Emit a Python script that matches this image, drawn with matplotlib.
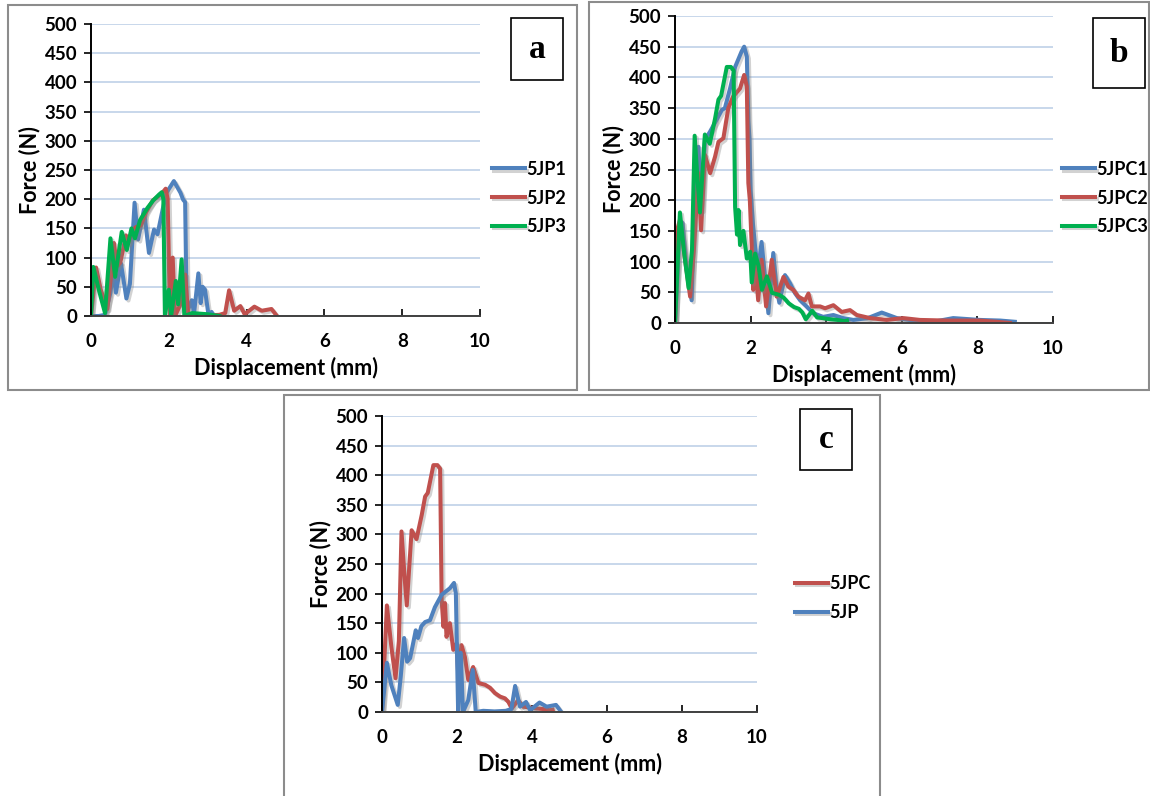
import matplotlib.pyplot as plt
import matplotlib.patheffects as pe
from matplotlib.patches import Rectangle

# panel a data
x_5jp1 = [0, 0.2, 0.36, 0.5, 0.57, 0.64, 0.77, 0.91, 1.0, 1.12, 1.21, 1.36, 1.49, 1.62, 1.71,
          1.85, 1.94, 2.13, 2.3, 2.37, 2.42, 2.46, 2.59, 2.65, 2.76, 2.82, 2.87, 2.93, 3.02, 3.1, 3.16]
f_5jp1 = [0, 0, 2, 40, 80, 40, 90, 30, 55, 194, 131, 182, 108, 148, 140,
          185, 211, 231, 211, 199, 195, 5, 27, 5, 73, 22, 50, 45, 2, 7, 0]

x_5jp2 = [0, 0.13, 0.25, 0.42, 0.5, 0.59, 0.67, 0.75, 0.9, 0.96, 1.05, 1.15, 1.28, 1.41, 1.59, 1.81,
          1.92, 1.97, 2.03, 2.1, 2.16, 2.3, 2.42, 2.5, 2.7, 3.0, 3.3, 3.45, 3.55, 3.68, 3.84, 3.95,
          4.2, 4.39, 4.64, 4.78]
f_5jp2 = [0, 83, 45, 12, 60, 125, 85, 91, 138, 125, 145, 152, 155, 177, 198, 209,
          218, 200, 0, 100, 0, 20, 71, 0, 2, 1, 2, 5, 44, 9, 17, 3,
          16, 9, 12, 0]

x_5jp3 = [0, 0.06, 0.2, 0.36, 0.5, 0.62, 0.79, 0.92, 1.04, 1.13, 1.26, 1.45, 1.6, 1.75, 1.82, 1.86,
          1.9, 2.0, 2.06, 2.18, 2.24, 2.33, 2.4, 2.6, 3.0, 3.3]
f_5jp3 = [0, 84, 45, 5, 133, 67, 144, 113, 150, 133, 164, 185, 198, 208, 212, 200,
          0, 45, 0, 60, 20, 97, 0, 5, 3, 0]

# panel b data
x_5jpc1 = [0, 0.05, 0.13, 0.2, 0.3, 0.44, 0.52, 0.62, 0.7, 0.79, 0.93, 1.1, 1.24, 1.32, 1.46, 1.59,
           1.76, 1.83, 1.9, 1.94, 1.97, 2.0, 2.06, 2.12, 2.2, 2.29, 2.38, 2.47, 2.6, 2.68, 2.76, 2.91,
           3.04, 3.17, 3.31, 3.48, 3.65, 3.92, 4.19, 4.45, 4.72, 5.1, 5.47, 5.87, 6.3, 6.75, 7.36,
           8.07, 8.6, 8.99]
f_5jpc1 = [0, 60, 165, 163, 90, 37, 200, 287, 184, 298, 312, 331, 347, 350, 383, 417,
           442, 450, 434, 330, 300, 216, 163, 124, 86, 132, 75, 16, 114, 60, 33, 78,
           65, 49, 37, 27, 16, 10, 13, 8, 5, 8, 17, 8, 4, 1, 8,
           5, 4, 2]

x_5jpc2 = [0, 0.05, 0.13, 0.25, 0.4, 0.5, 0.62, 0.69, 0.79, 0.93, 1.06, 1.15, 1.28, 1.41, 1.54, 1.72,
           1.83, 1.9, 1.94, 1.98, 2.03, 2.07, 2.12, 2.2, 2.29, 2.41, 2.56, 2.69, 2.87, 3.0, 3.13, 3.26,
           3.44, 3.53, 3.62, 3.84, 3.97, 4.19, 4.41, 4.63, 4.81, 5.16, 5.6, 6.04, 6.48, 7.19, 8.07,
           8.5, 8.86]
f_5jpc2 = [0, 150, 168, 110, 43, 120, 244, 151, 274, 244, 271, 295, 301, 350, 369, 382,
           404, 385, 228, 200, 124, 54, 98, 37, 103, 27, 103, 43, 75, 59, 54, 43,
           37, 48, 27, 27, 24, 29, 18, 21, 13, 8, 5, 8, 5, 4, 4,
           2, 0]

x_5jpc3 = [0, 0.13, 0.25, 0.36, 0.45, 0.52, 0.6, 0.66, 0.79, 0.92, 1.06, 1.15, 1.22, 1.37, 1.48, 1.55,
           1.59, 1.64, 1.68, 1.72, 1.81, 1.9, 1.99, 2.03, 2.12, 2.21, 2.3, 2.43, 2.57, 2.75, 2.88, 3.01,
           3.15, 3.28, 3.37, 3.46, 3.63, 3.76, 3.9, 4.12, 4.3, 4.48, 4.55]
f_5jpc3 = [0, 180, 110, 57, 120, 305, 230, 180, 307, 292, 333, 364, 370, 417, 417, 411,
           189, 144, 184, 127, 150, 105, 116, 66, 113, 93, 54, 76, 49, 46, 41, 32,
           26, 23, 17, 6, 20, 9, 8, 6, 5, 3, 4]

blue = '#4f81bd'
red = '#c0504d'
green = '#00b050'

plt.rcParams['font.family'] = ['Lato', 'DejaVu Sans']
plt.rcParams['font.weight'] = 'bold'

fig = plt.figure(figsize=(11.5, 7.96), dpi=100)

shadow = [pe.SimpleLineShadow(offset=(1.5, -1.5), shadow_color='gray', alpha=0.35), pe.Normal()]


def make_panel(rect, series, letter, letter_box, leg_pos, frame):
    # outer frame of the panel
    fig.patches.append(Rectangle((frame[0], frame[1]), frame[2], frame[3], transform=fig.transFigure,
                                 fill=False, edgecolor='#8c8c8c', linewidth=1.5))
    ax = fig.add_axes(rect)
    for xs, fs, name, col in series:
        ax.plot(xs, fs, color=col, linewidth=2.9, label=name, path_effects=shadow)
    ax.set_xlim(0, 10)
    ax.set_ylim(0, 500)
    ax.set_xticks(range(0, 11, 2))
    ax.set_yticks(range(0, 501, 50))
    ax.grid(axis='y', color='#b9cde5', linewidth=1.1)
    ax.set_axisbelow(True)
    ax.spines['top'].set_visible(False)
    ax.spines['right'].set_visible(False)
    ax.spines['left'].set_linewidth(1.4)
    ax.spines['bottom'].set_linewidth(1.4)
    ax.spines['bottom'].set_color('#404040')
    ax.tick_params(axis='y', direction='out', length=5, width=1.2, labelsize=13.5, pad=5)
    ax.tick_params(axis='x', direction='in', length=5, width=1.2, labelsize=13.5, pad=12)
    ax.set_xlabel('Displacement (mm)', fontsize=15.5, fontweight='bold', labelpad=5)
    ax.set_ylabel('Force (N)', fontsize=15.5, fontweight='bold', labelpad=3)
    ax.legend(loc='center left', bbox_to_anchor=leg_pos, bbox_transform=fig.transFigure,
              frameon=False, fontsize=13, handlelength=1.8, handletextpad=0.1,
              labelspacing=0.65, borderaxespad=0, borderpad=0)
    # letter box
    fig.patches.append(Rectangle((letter_box[0], letter_box[1]), letter_box[2], letter_box[3],
                                 transform=fig.transFigure, fill=False, edgecolor='black', linewidth=1.2))
    fig.text(letter_box[0] + letter_box[2] / 2, letter_box[1] + letter_box[3] / 2, letter,
             family='Liberation Serif', fontweight='bold', fontsize=24, ha='center', va='center')
    return ax


W, H = 1150.0, 796.0


def fr(x0, y0, x1, y1):
    # pixel box (top-left origin) -> figure fraction rect
    return [x0 / W, 1 - y1 / H, (x1 - x0) / W, (y1 - y0) / H]


make_panel(fr(91, 24, 480, 316),
           [(x_5jp1, f_5jp1, '5JP1', blue), (x_5jp2, f_5jp2, '5JP2', red), (x_5jp3, f_5jp3, '5JP3', green)],
           'a', fr(511, 18, 563, 80), (492 / W, 1 - 198 / H), fr(8, 5, 577, 390))

make_panel(fr(675, 16, 1053, 323),
           [(x_5jpc1, f_5jpc1, '5JPC1', blue), (x_5jpc2, f_5jpc2, '5JPC2', red),
            (x_5jpc3, f_5jpc3, '5JPC3', green)],
           'b', fr(1093, 18, 1145, 88), (1062 / W, 1 - 198 / H), fr(589, 2, 1149, 390))

make_panel(fr(382, 416, 757, 712),
           [(x_5jpc3, f_5jpc3, '5JPC', red), (x_5jp2, f_5jp2, '5JP', blue)],
           'c', fr(800, 409, 852, 470), (795 / W, 1 - 598 / H), fr(284, 395, 880, 800))

fig.savefig('out.png', dpi=100)
